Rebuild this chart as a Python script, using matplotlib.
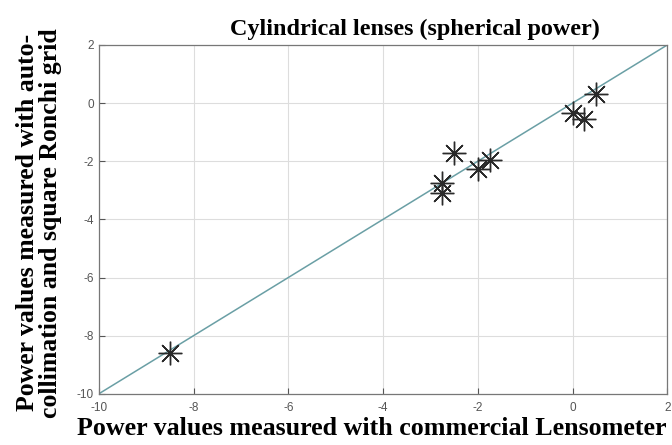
import matplotlib.pyplot as plt

plt.rcParams['axes.unicode_minus'] = False

# lensometer reading vs auto-collimation / Ronchi reading
lensometer = [-8.5, -2.75, -2.75, -2.5, -2.0, -1.75, 0.0, 0.25, 0.5]
ronchi = [-8.6, -2.75, -3.1, -1.7, -2.25, -1.95, -0.35, -0.55, 0.3]
ref_line = [-10, 2]
ticks = [-10, -8, -6, -4, -2, 0, 2]

fig = plt.figure(figsize=(6.72, 4.45), dpi=100)
ax = fig.add_axes([0.147, 0.115, 0.846, 0.784])

ax.plot(ref_line, ref_line, color='#6a9fa5', linewidth=1.1, zorder=2)
ax.plot(lensometer, ronchi, linestyle='none', marker=(8, 2, 0),
        markersize=17, markeredgewidth=1.0, color='#2a2a2a', zorder=3)

ax.set_xlim(-10, 2)
ax.set_ylim(-10, 2)
ax.set_xticks(ticks)
ax.set_yticks(ticks)
ax.grid(True, color='#dddddd', linewidth=0.8)
ax.set_axisbelow(True)
ax.tick_params(direction='in', labelsize=8.5, colors='#555555', length=4)
ax.tick_params(axis='x', pad=6)
for lbl in ax.get_xticklabels() + ax.get_yticklabels():
    lbl.set_family('Liberation Sans')
for s in ax.spines.values():
    s.set_color('#777777')
    s.set_linewidth(0.9)

serif = {'family': 'Liberation Serif', 'weight': 'bold'}
ax.set_title("Cylindrical lenses (spherical power)", fontdict=serif,
             fontsize=17.4, pad=7, x=0.556)
ax.set_xlabel("Power values measured with commercial Lensometer",
              fontdict=serif, fontsize=18.7, labelpad=2, x=0.48)
ax.set_ylabel("Power values measured with auto-\ncollimation and square Ronchi grid",
              fontdict=serif, fontsize=18.5, labelpad=11, linespacing=1.0, y=0.49)

fig.savefig("out.png", dpi=100)
